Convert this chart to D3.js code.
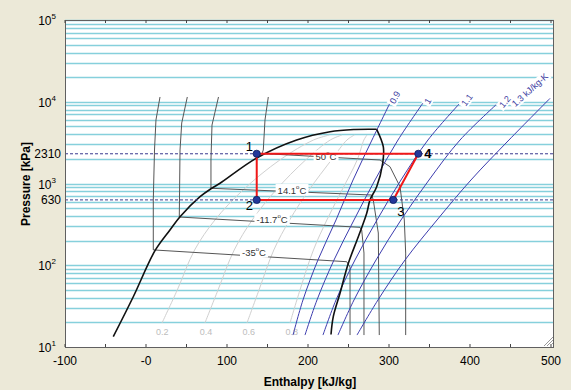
<!DOCTYPE html>
<html><head><meta charset="utf-8">
<script src="https://cdn.jsdelivr.net/npm/d3@7"></script>
<style>
body{margin:0;background:#ECE9D8;}
svg{display:block;font-family:"Liberation Sans",Arial,sans-serif;}
</style>
</head><body>
<svg id="c" width="571" height="390"></svg>
<script>
// ---------- data (enthalpy kJ/kg, pressure kPa) ----------
const xTicks = [-100, 0, 100, 200, 300, 400, 500];
const xTickLabels = ["-100", "-0", "100", "200", "300", "400", "500"];
const xMinorTicks = [-100, -50, 0, 50, 100, 150, 200, 250, 300, 350, 400, 450, 500];
const yDecadeExps = [1, 2, 3, 4, 5];
const markedPressures = [630, 2310];

const domeLiquid = [[-40.4,13.4],[-15.7,41.2],[11.1,150.7],[29.6,270],[42,392],[66.7,690],[81.1,874],[91.4,1006],[136.7,2051],[186,3405],[227.2,4301],[258,4577],[284.8,4603]];
const domeVapor = [[284.8,4603],[293,2796],[292.2,1766],[284.8,914],[276.5,628],[272.5,432],[262.1,223.5],[249.8,105.7],[239.5,45.4],[231.2,23.5],[228.4,14.2]];

const isoTm35 = [[17.3,11433],[12.3,5981],[10.5,2570],[9,628],[9,154],[247.8,110.5],[251.9,95.2],[251.9,14]];
const isoTm12 = [[51,11433],[44.1,5497],[42,2570],[41.1,389],[264.2,291],[266.3,270],[269.1,141],[269.1,14]];
const isoT14 = [[89.5,11433],[81.5,5195],[80.2,1939],[80.2,874],[278.6,723],[280.6,628],[286.8,248],[288,14]];
const isoT50 = [[151,11433],[146.9,5981],[144.8,2570],[143.2,2328],[288.9,1939],[301.2,1605],[313.6,914],[318.9,358],[320.6,141],[320.6,14]];
const isothermLabels = ["-35", "-11.7", "14.1", "50"];
const isothermLabelPos = [[133.3,145], [155.6,363], [180.2,832], [222.2,2140]];

const quality02 = [[19.8,19.7],[38.6,49.8],[60,153.7],[85.1,357.7],[119.8,832.6],[165.2,1939],[206.8,3405],[226.3,3918]];
const quality04 = [[72.8,19.7],[88.9,49.8],[108.9,153.7],[131.1,357.7],[160.5,832.6],[197,1939],[227.5,3405],[241.9,3918]];
const quality06 = [[124.7,19.7],[139.5,49.8],[157.8,153.7],[177.3,357.7],[201.2,832.6],[228.9,1939],[248.1,3405],[257.3,3918]];
const quality08 = [[177.8,19.7],[190.1,49.8],[206.7,153.7],[223.3,357.7],[242,832.6],[260.7,1939],[269,3405],[272.8,3918]];
const qualityLabels = ["0.2", "0.4", "0.6", "0.8"];
const qualityLabelH = [20, 74, 127, 180];

const isoS09 = [[301.2,9660],[279,3405],[255.6,1104],[234.6,358],[212.3,116],[193.8,37.6],[181.5,14]];
const isoS10 = [[342,9660],[311.1,3405],[282.7,1104],[256.8,358],[232.1,116],[211.1,37.6],[196.3,14]];
const isoS11 = [[387.7,9660],[348.1,3405],[314.8,1104],[285.2,358],[258,116],[234.6,37.6],[218.5,14]];
const isoS12 = [[434.6,9660],[387.7,3405],[349.4,1104],[314.8,358],[284,116],[256.8,37.6],[237,14]];
const isoS13 = [[498.8,11000],[448.1,3405],[401.2,1104],[359.3,358],[319.8,116],[286.4,37.6],[260.5,14]];
const isentropeLabels = ["0.9", "1", "1.1", "1.2", "1.3 kJ/kg-K"];
const isentropeLabelPos = [[307.4,11270],[348.1,10210],[396.3,10500],[443.2,10015],[474.1,13920]];
const isentropeLabelAngle = [-62, -60, -54, -49, -42];

const cycleH = [136.7, 136.7, 305.3, 336.2];
const cycleP = [2310, 630, 630, 2310];
const cycleNames = ["1", "2", "3", "4"];

// ---------- layout ----------
const W = 571, H = 390;
const L = 65, R = 551, T = 20, B = 347;
const svg = d3.select("#c");
const x = d3.scaleLinear().domain([-100, 500]).range([L, R]);
const y = d3.scaleLog().domain([10, 1e5]).range([B, T]);

svg.append("rect").attr("width", W).attr("height", H).attr("fill", "#ECE9D8");
svg.append("rect").attr("x", L).attr("y", T).attr("width", R - L + 3).attr("height", B - T).attr("fill", "#fff");

// grid lines
const gridVals = [];
for (let e = 1; e <= 4; e++) for (let m = 1; m <= 9; m++) gridVals.push(m * Math.pow(10, e));
gridVals.push(1e5);
svg.append("g").selectAll("line").data(gridVals.filter(v => v > 10)).join("line")
  .attr("x1", L).attr("x2", R + 3)
  .attr("y1", d => Math.round(y(d)) + 0.5).attr("y2", d => Math.round(y(d)) + 0.5)
  .attr("stroke", "#86d0dc").attr("stroke-width", 1.3);

const lin = d3.line().x(d => x(d[0])).y(d => y(d[1]));
const smooth = d3.line().x(d => x(d[0])).y(d => y(d[1])).curve(d3.curveCatmullRom.alpha(0.5));

const plot = svg.append("g");
// quality lines
[quality02, quality04, quality06, quality08].forEach(q => {
  plot.append("path").attr("d", smooth(q)).attr("fill", "none").attr("stroke", "#d0d0d0").attr("stroke-width", 1);
});
qualityLabels.forEach((t, i) => {
  plot.append("text").attr("x", x(qualityLabelH[i])).attr("y", 335).attr("text-anchor", "middle")
    .attr("font-size", 9).attr("fill", "#bdbdbd").text(t);
});

// isotherms
[isoTm35, isoTm12, isoT14, isoT50].forEach(t => {
  plot.append("path").attr("d", lin(t)).attr("fill", "none").attr("stroke", "#555").attr("stroke-width", 1);
});

// isentropes
[isoS09, isoS10, isoS11, isoS12, isoS13].forEach(s => {
  plot.append("path").attr("d", smooth(s)).attr("fill", "none").attr("stroke", "#3c3cae").attr("stroke-width", 1);
});

// dome
plot.append("path").attr("d", smooth(domeLiquid)).attr("fill", "none").attr("stroke", "#111").attr("stroke-width", 1.6);
plot.append("path").attr("d", smooth(domeVapor)).attr("fill", "none").attr("stroke", "#111").attr("stroke-width", 1.6);

// label helper with white background
function bgLabel(g, px, py, build, angle, size, color) {
  const gg = g.append("g").attr("transform", `translate(${px},${py}) rotate(${angle || 0})`);
  const r = gg.append("rect").attr("fill", "#fff");
  const t = gg.append("text").attr("text-anchor", "middle").attr("dominant-baseline", "central")
    .attr("font-size", size).attr("fill", color);
  build(t);
  const b = t.node().getBBox();
  r.attr("x", b.x - 2).attr("y", b.y).attr("width", b.width + 4).attr("height", b.height);
}
isothermLabels.forEach((lab, i) => {
  const p = isothermLabelPos[i];
  bgLabel(plot, x(p[0]), y(p[1]), t => {
    t.append("tspan").text(lab);
    t.append("tspan").attr("font-size", 6).attr("dy", -3).text("o");
    t.append("tspan").attr("dy", 3).text("C");
  }, 0, 9.5, "#333");
});
isentropeLabels.forEach((lab, i) => {
  const p = isentropeLabelPos[i];
  bgLabel(plot, x(p[0]), y(p[1]), t => t.text(lab), isentropeLabelAngle[i], 9, "#3a3aa0");
});

// dashed pressure lines
markedPressures.forEach(p => {
  plot.append("line").attr("x1", L).attr("x2", R + 3).attr("y1", y(p)).attr("y2", y(p))
    .attr("stroke", "#3a3a90").attr("stroke-width", 1).attr("stroke-dasharray", "3,2");
});

// cycle
const cyc = cycleH.map((h, i) => [h, cycleP[i]]);
plot.append("path").attr("d", lin([cyc[0], cyc[1], cyc[2], cyc[3], cyc[0]]))
  .attr("fill", "none").attr("stroke", "#f01818").attr("stroke-width", 2);
plot.selectAll("circle").data(cyc).join("circle")
  .attr("cx", d => x(d[0])).attr("cy", d => y(d[1])).attr("r", 3.6)
  .attr("fill", "#22389a").attr("stroke", "#0c1a5c").attr("stroke-width", 0.8);
const nameOff = [[-11, -3], [-11, 10], [4, 16], [6, 4]];
cycleNames.forEach((n, i) => {
  plot.append("text").attr("x", x(cyc[i][0]) + nameOff[i][0]).attr("y", y(cyc[i][1]) + nameOff[i][1])
    .attr("font-size", 13).attr("fill", "#000").attr("font-weight", i === 3 ? "bold" : "normal").text(n);
});

// frame
svg.append("rect").attr("x", L + 0.5).attr("y", T + 0.5).attr("width", R - L + 2).attr("height", B - T)
  .attr("fill", "none").attr("stroke", "#606060").attr("stroke-width", 1);
// ticks
svg.append("g").selectAll("line").data(xMinorTicks).join("line")
  .attr("x1", d => x(d)).attr("x2", d => x(d)).attr("y1", B).attr("y2", B - 3)
  .attr("stroke", "#444");
svg.append("g").selectAll("line").data(xMinorTicks).join("line")
  .attr("x1", d => x(d)).attr("x2", d => x(d)).attr("y1", T).attr("y2", T + 3)
  .attr("stroke", "#444");

// x labels
xTicks.forEach((v, i) => {
  svg.append("text").attr("x", x(v)).attr("y", 365).attr("text-anchor", "middle")
    .attr("font-size", 12).attr("fill", "#000").text(xTickLabels[i]);
});
svg.append("text").attr("x", 310).attr("y", 386).attr("text-anchor", "middle")
  .attr("font-size", 12).attr("font-weight", "bold").text("Enthalpy [kJ/kg]");

// y labels
yDecadeExps.forEach(e => {
  const t = svg.append("text").attr("x", 56).attr("y", y(Math.pow(10, e)) + 5).attr("text-anchor", "end")
    .attr("font-size", 12).attr("fill", "#000");
  t.append("tspan").text("10");
  t.append("tspan").attr("font-size", 8).attr("dy", -6).text(String(e));
});
markedPressures.forEach(p => {
  svg.append("text").attr("x", 61).attr("y", y(p) + 4.5).attr("text-anchor", "end")
    .attr("font-size", 12).attr("fill", "#000").text(String(p));
});
svg.append("text").attr("transform", "translate(30,184) rotate(-90)").attr("text-anchor", "middle")
  .attr("font-size", 12).attr("font-weight", "bold").text("Pressure [kPa]");

// resize grip
[3, 6, 9].forEach(k => {
  svg.append("line").attr("x1", R + 2 - k).attr("y1", B - 1).attr("x2", R + 2).attr("y2", B - 1 - k)
    .attr("stroke", "#999").attr("stroke-width", 1);
});
</script>
</body></html>
